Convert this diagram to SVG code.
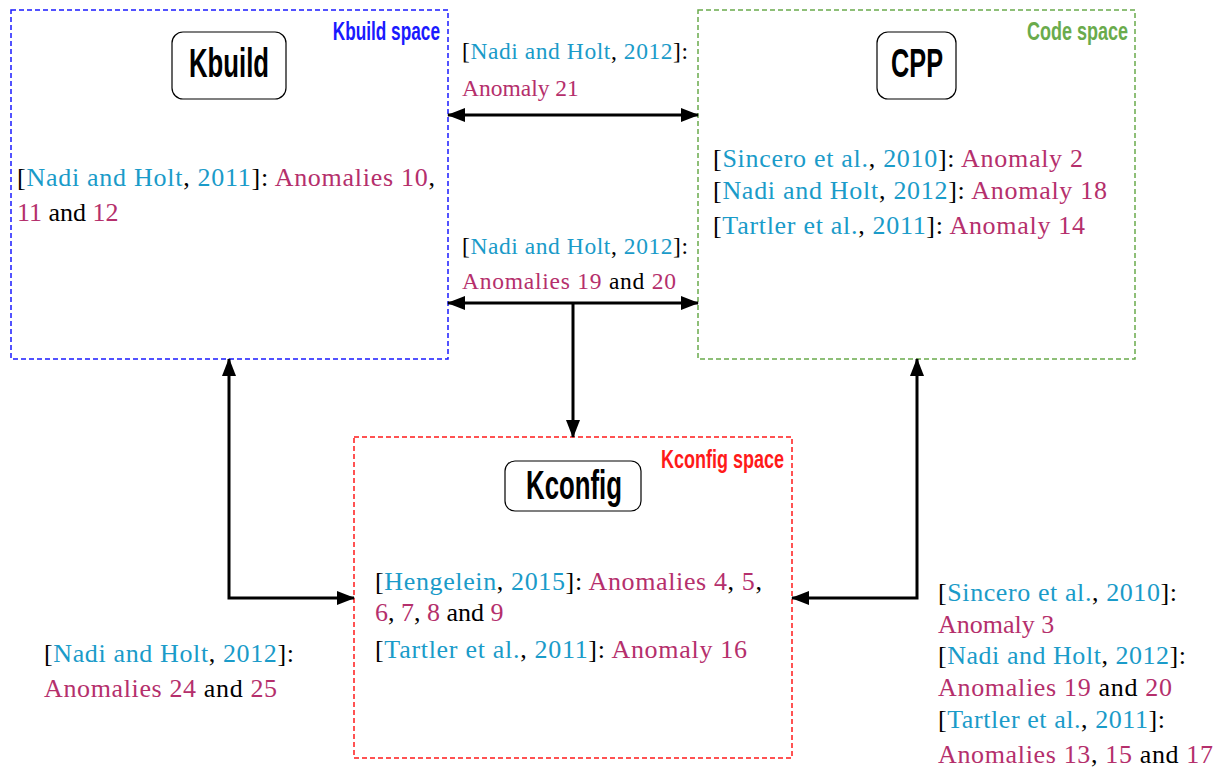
<svg xmlns="http://www.w3.org/2000/svg" width="1227" height="769" viewBox="0 0 1227 769">
<style>
.space{fill:none;stroke-width:1.5;stroke-dasharray:5 3}
.lbox{fill:#fff;stroke:#000;stroke-width:1.2}
.title{font-family:"Liberation Sans Narrow","Liberation Sans",sans-serif;font-size:40px;font-weight:bold;fill:#000}
.slab{font-family:"Liberation Sans Narrow","Liberation Sans",sans-serif;font-size:25px;font-weight:bold}
.t{font-family:"Liberation Serif","Times New Roman",serif;font-size:26px;fill:#000}
.s{font-size:23.5px}
.c{fill:#1a9bc9}
.m{fill:#b52f6c}
.conn{fill:none;stroke:#000;stroke-width:3}
</style>
<defs>
<marker id="ah" viewBox="0 0 18 14" refX="17" refY="7" markerWidth="18" markerHeight="14" markerUnits="userSpaceOnUse" orient="auto-start-reverse">
<path d="M0,0 L18,7 L0,14 z" fill="#000"/>
</marker>
</defs>
<rect width="1227" height="769" fill="#fff"/>

<g id="kbuild-space">
<rect class="space" x="11" y="10" width="437" height="349" stroke="#1a1aff"/>
<text class="slab" transform="translate(440,40) scale(0.69,1)" text-anchor="end" fill="#1a1aff">Kbuild space</text>
<rect class="lbox" x="172" y="32" width="114" height="67" rx="11"/>
<text class="title" x="189" y="77" textLength="80" lengthAdjust="spacingAndGlyphs">Kbuild</text>
<text class="t" x="17" y="186" textLength="418" lengthAdjust="spacing">[<tspan class="c">Nadi and Holt</tspan>, <tspan class="c">2011</tspan>]: <tspan class="m">Anomalies 10</tspan>,</text>
<text class="t" x="17" y="221"><tspan class="m">11</tspan> and <tspan class="m">12</tspan></text>
</g>

<g id="code-space">
<rect class="space" x="698" y="10" width="437" height="349" stroke="#6aab4c"/>
<text class="slab" transform="translate(1128,40) scale(0.72,1)" text-anchor="end" fill="#6aab4c">Code space</text>
<rect class="lbox" x="877" y="32" width="79" height="67" rx="11"/>
<text class="title" x="891" y="77" textLength="52" lengthAdjust="spacingAndGlyphs">CPP</text>
<text class="t" x="713" y="167" textLength="370" lengthAdjust="spacing">[<tspan class="c">Sincero et al.</tspan>, <tspan class="c">2010</tspan>]: <tspan class="m">Anomaly 2</tspan></text>
<text class="t" x="713" y="199" textLength="394" lengthAdjust="spacing">[<tspan class="c">Nadi and Holt</tspan>, <tspan class="c">2012</tspan>]: <tspan class="m">Anomaly 18</tspan></text>
<text class="t" x="713" y="234" textLength="372" lengthAdjust="spacing">[<tspan class="c">Tartler et al.</tspan>, <tspan class="c">2011</tspan>]: <tspan class="m">Anomaly 14</tspan></text>
</g>

<g id="kconfig-space">
<rect class="space" x="354" y="437" width="438" height="321" stroke="#ff1a1a"/>
<text class="slab" transform="translate(784,468) scale(0.72,1)" text-anchor="end" fill="#ff1a1a">Kconfig space</text>
<rect class="lbox" x="505" y="461" width="136" height="50" rx="10"/>
<text class="title" x="526" y="499" textLength="96" lengthAdjust="spacingAndGlyphs">Kconfig</text>
<text class="t" x="375" y="590" textLength="387" lengthAdjust="spacing">[<tspan class="c">Hengelein</tspan>, <tspan class="c">2015</tspan>]: <tspan class="m">Anomalies 4</tspan>, <tspan class="m">5</tspan>,</text>
<text class="t" x="375" y="621"><tspan class="m">6</tspan>, <tspan class="m">7</tspan>, <tspan class="m">8</tspan> and <tspan class="m">9</tspan></text>
<text class="t" x="375" y="658" textLength="372" lengthAdjust="spacing">[<tspan class="c">Tartler et al.</tspan>, <tspan class="c">2011</tspan>]: <tspan class="m">Anomaly 16</tspan></text>
</g>

<g id="connectors">
<line class="conn" x1="448" y1="115" x2="698" y2="115" marker-start="url(#ah)" marker-end="url(#ah)"/>
<line class="conn" x1="448" y1="303" x2="698" y2="303" marker-start="url(#ah)" marker-end="url(#ah)"/>
<line class="conn" x1="573" y1="303" x2="573" y2="437" marker-end="url(#ah)"/>
<path class="conn" d="M229,359 V598 H354" marker-start="url(#ah)" marker-end="url(#ah)"/>
<path class="conn" d="M917,359 V598 H792" marker-start="url(#ah)" marker-end="url(#ah)"/>
</g>

<g id="label-kbuild-cpp-1">
<text class="t s" x="462" y="59" textLength="226" lengthAdjust="spacing">[<tspan class="c">Nadi and Holt</tspan>, <tspan class="c">2012</tspan>]:</text>
<text class="t s" x="462" y="96"><tspan class="m">Anomaly 21</tspan></text>
</g>
<g id="label-kbuild-cpp-2">
<text class="t s" x="462" y="254" textLength="226" lengthAdjust="spacing">[<tspan class="c">Nadi and Holt</tspan>, <tspan class="c">2012</tspan>]:</text>
<text class="t s" x="462" y="289" textLength="214" lengthAdjust="spacing"><tspan class="m">Anomalies 19</tspan> and <tspan class="m">20</tspan></text>
</g>
<g id="label-kbuild-kconfig">
<text class="t" x="44" y="662" textLength="250" lengthAdjust="spacing">[<tspan class="c">Nadi and Holt</tspan>, <tspan class="c">2012</tspan>]:</text>
<text class="t" x="44" y="697" textLength="233" lengthAdjust="spacing"><tspan class="m">Anomalies 24</tspan> and <tspan class="m">25</tspan></text>
</g>
<g id="label-cpp-kconfig">
<text class="t" x="938" y="601" textLength="239" lengthAdjust="spacing">[<tspan class="c">Sincero et al.</tspan>, <tspan class="c">2010</tspan>]:</text>
<text class="t" x="938" y="633"><tspan class="m">Anomaly 3</tspan></text>
<text class="t" x="938" y="664" textLength="248" lengthAdjust="spacing">[<tspan class="c">Nadi and Holt</tspan>, <tspan class="c">2012</tspan>]:</text>
<text class="t" x="938" y="696" textLength="234" lengthAdjust="spacing"><tspan class="m">Anomalies 19</tspan> and <tspan class="m">20</tspan></text>
<text class="t" x="938" y="728" textLength="227" lengthAdjust="spacing">[<tspan class="c">Tartler et al.</tspan>, <tspan class="c">2011</tspan>]:</text>
<text class="t" x="938" y="763" textLength="275" lengthAdjust="spacing"><tspan class="m">Anomalies 13</tspan>, <tspan class="m">15</tspan> and <tspan class="m">17</tspan></text>
</g>
</svg>
